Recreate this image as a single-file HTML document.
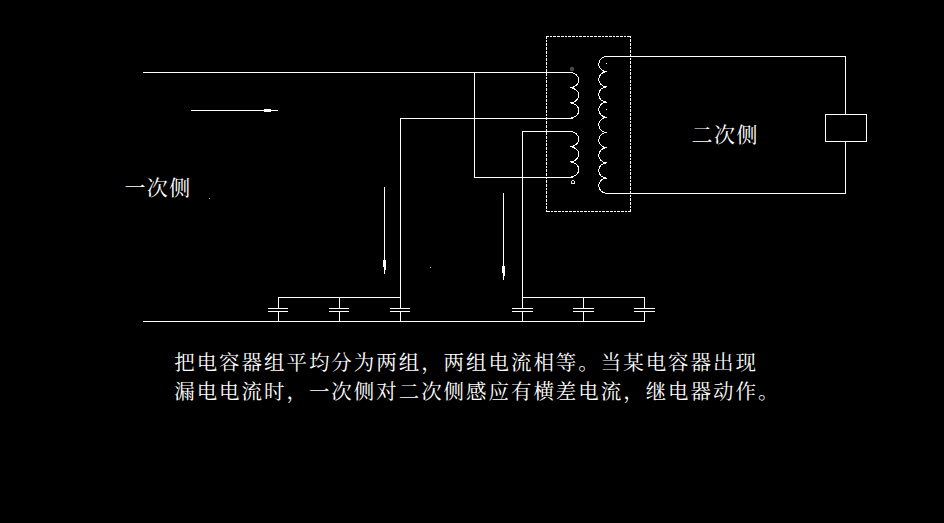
<!DOCTYPE html>
<html lang="zh-CN">
<head>
<meta charset="utf-8">
<title>电容器组横差保护原理</title>
<style>
html,body{margin:0;padding:0;background:#000;}
body{width:944px;height:523px;overflow:hidden;position:relative;}
svg{position:absolute;left:0;top:0;display:block;}
.t{font-family:"Liberation Serif","Noto Serif CJK SC","Noto Sans CJK SC",serif;fill:#fff;}
</style>
</head>
<body>
<svg width="944" height="523" viewBox="0 0 944 523">
<rect width="944" height="523" fill="#000"/>
<g fill="#fff" shape-rendering="crispEdges">
<rect x="143" y="72" width="430" height="1"/>
<rect x="474" y="72" width="1" height="106"/>
<rect x="400" y="118" width="173" height="1"/>
<rect x="400" y="118" width="1" height="191"/>
<rect x="522" y="131" width="51" height="1"/>
<rect x="522" y="131" width="1" height="178"/>
<rect x="474" y="177" width="99" height="1"/>
<rect x="143" y="321" width="502" height="1"/>
<rect x="278" y="297" width="123" height="1"/>
<rect x="522" y="297" width="123" height="1"/>
<rect x="278" y="297" width="1" height="12"/>
<rect x="278" y="311" width="1" height="11"/>
<rect x="268" y="308" width="20" height="1"/>
<rect x="268" y="311" width="20" height="1"/>
<rect x="339" y="297" width="1" height="12"/>
<rect x="339" y="311" width="1" height="11"/>
<rect x="329" y="308" width="20" height="1"/>
<rect x="329" y="311" width="20" height="1"/>
<rect x="400" y="297" width="1" height="12"/>
<rect x="400" y="311" width="1" height="11"/>
<rect x="390" y="308" width="20" height="1"/>
<rect x="390" y="311" width="20" height="1"/>
<rect x="522" y="297" width="1" height="12"/>
<rect x="522" y="311" width="1" height="11"/>
<rect x="512" y="308" width="21" height="1"/>
<rect x="512" y="311" width="21" height="1"/>
<rect x="583" y="297" width="1" height="12"/>
<rect x="583" y="311" width="1" height="11"/>
<rect x="573" y="308" width="21" height="1"/>
<rect x="573" y="311" width="21" height="1"/>
<rect x="644" y="297" width="1" height="12"/>
<rect x="644" y="311" width="1" height="11"/>
<rect x="634" y="308" width="21" height="1"/>
<rect x="634" y="311" width="21" height="1"/>
<rect x="606" y="56" width="240" height="1"/>
<rect x="606" y="193" width="240" height="1"/>
<rect x="845" y="56" width="1" height="59"/>
<rect x="845" y="141" width="1" height="53"/>
<rect x="825" y="114" width="42" height="1"/>
<rect x="825" y="141" width="42" height="1"/>
<rect x="825" y="114" width="1" height="28"/>
<rect x="866" y="114" width="1" height="28"/>
<rect x="191" y="110" width="87" height="1"/>
<rect x="264" y="109" width="7" height="3"/>
<rect x="384" y="187" width="1" height="87"/>
<rect x="383" y="260" width="1" height="7"/>
<rect x="385" y="260" width="1" height="10"/>
<rect x="503" y="193" width="1" height="87"/>
<rect x="502" y="266" width="1" height="7"/>
<rect x="504" y="266" width="1" height="10"/>
<rect x="209" y="198" width="1" height="1" fill="#aaa"/>
<rect x="430" y="267" width="1" height="1" fill="#ccc"/>
<rect x="606" y="63" width="1" height="1"/>
<rect x="606" y="109" width="1" height="1"/>
</g>
<g fill="none" stroke="#fff" stroke-width="1" shape-rendering="crispEdges">
<g stroke-dasharray="2.7 1">
<line x1="546" y1="36.5" x2="631" y2="36.5"/>
<line x1="631" y1="211.5" x2="546" y2="211.5"/>
<line x1="546.5" y1="36" x2="546.5" y2="212"/>
<line x1="630.5" y1="212" x2="630.5" y2="36"/>
</g>
</g>
<g fill="none" stroke="#fff" stroke-width="1" shape-rendering="crispEdges">
<path d="M570 72.5 a8.7 7.6 0 0 1 0 15.2 a8.7 7.6 0 0 1 0 15.2 a8.7 7.6 0 0 1 0 15.2"/><path d="M570 131.5 a8.7 7.6 0 0 1 0 15.2 a8.7 7.6 0 0 1 0 15.2 a8.7 7.6 0 0 1 0 15.2"/><path d="M607 56.5 a8.3 7.6 0 0 0 0 15.2 a8.3 7.6 0 0 0 0 15.2 a8.3 7.6 0 0 0 0 15.2 a8.3 7.6 0 0 0 0 15.2 a8.3 7.6 0 0 0 0 15.2 a8.3 7.6 0 0 0 0 15.2 a8.3 7.6 0 0 0 0 15.2 a8.3 7.6 0 0 0 0 15.2 a8.3 7.6 0 0 0 0 15.2"/>
<circle cx="572.9" cy="182.3" r="1.7" stroke-width="0.9"/>
</g>
<circle cx="572" cy="69" r="2.2" fill="#484848"/>
<text class="t" x="124.4" y="194.5" font-size="21" letter-spacing="1.45">一次侧</text>
<text class="t" x="691.5" y="141.6" font-size="21" letter-spacing="1.45">二次侧</text>
<text class="t" x="174.2" y="370" font-size="20.5" letter-spacing="1.95">把电容器组平均分为两组，两组电流相等。当某电容器出现</text>
<text class="t" x="174.2" y="399.1" font-size="20.5" letter-spacing="1.95">漏电电流时，一次侧对二次侧感应有横差电流，继电器动作。</text>
</svg>
</body>
</html>
